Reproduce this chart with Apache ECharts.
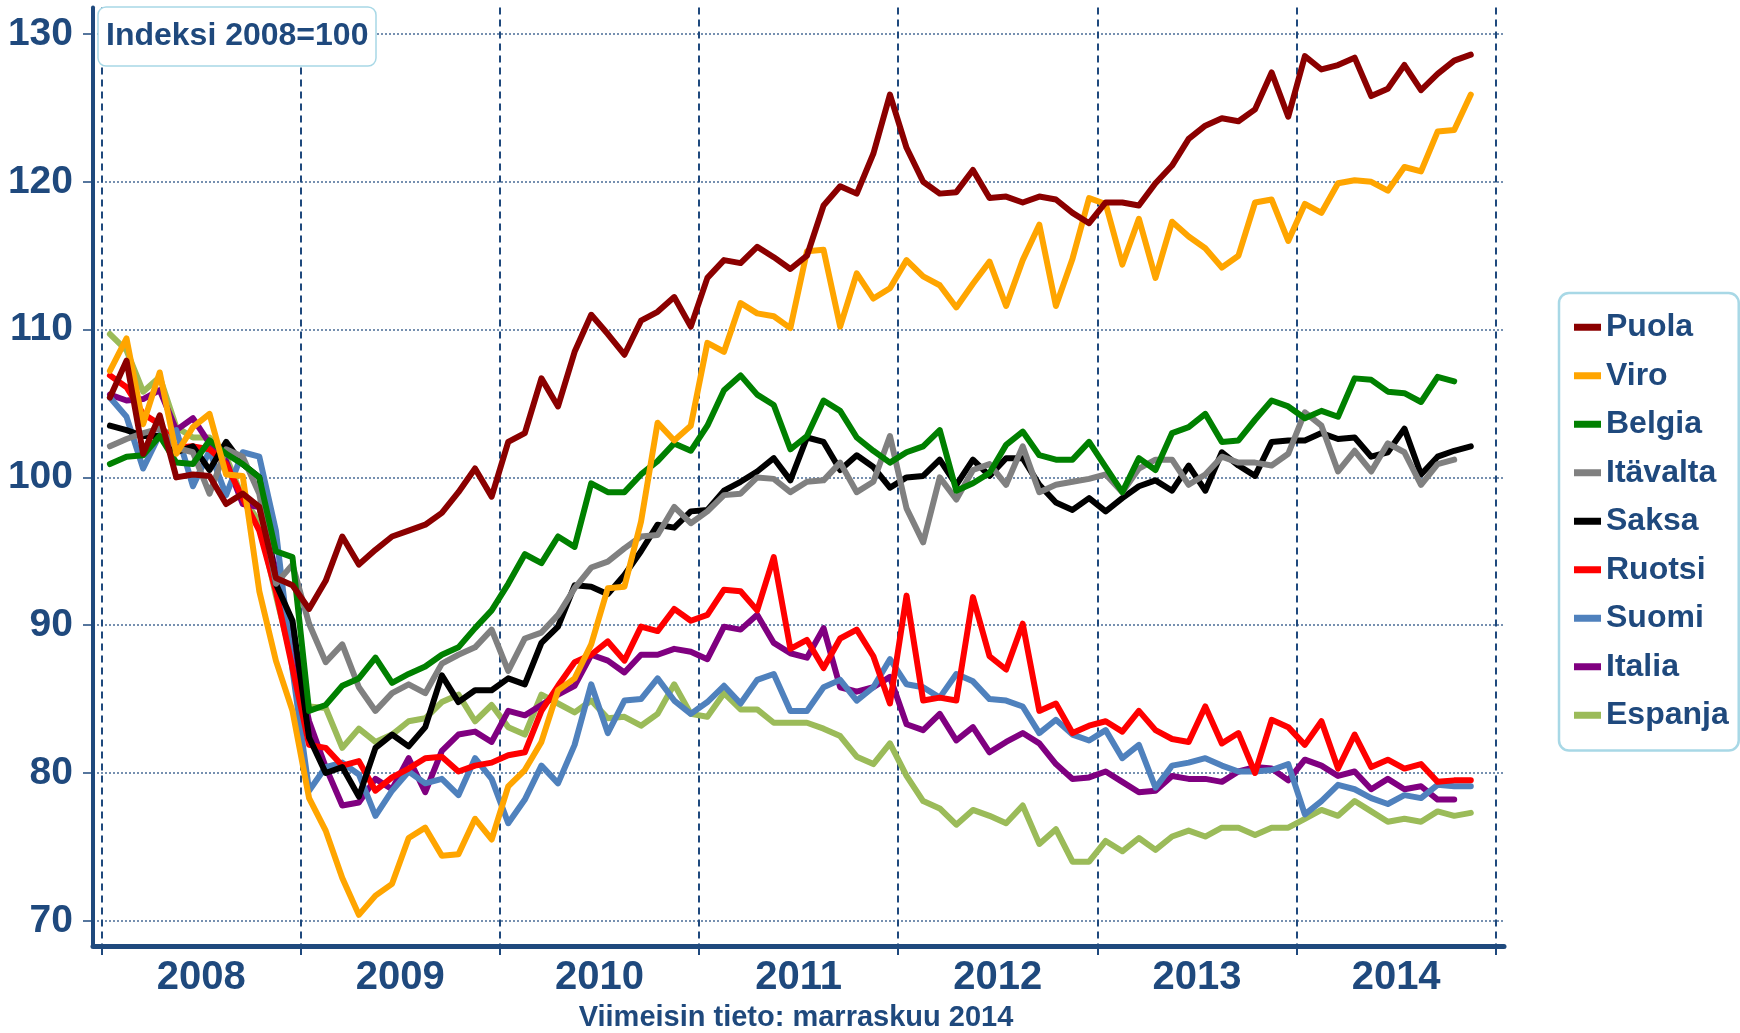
<!DOCTYPE html>
<html>
<head>
<meta charset="utf-8">
<title>Indeksi 2008=100</title>
<script src="https://cdn.jsdelivr.net/npm/echarts@6/dist/echarts.min.js"></script>
<style>
  html, body { margin: 0; padding: 0; background: #fff; }
  #chart { width: 1740px; height: 1033px; }
</style>
</head>
<body>
<div id="chart"></div>
<script>
// kuukausittaiset indeksit tammikuu 2008 - marraskuu 2014, 2008=100
const years = ['2008', '2009', '2010', '2011', '2012', '2013', '2014']
const yTicks = [70, 80, 90, 100, 110, 120, 130]

const puola = [
  105.4, 107.9, 101.6, 104.2, 100.0, 100.2, 100.1, 98.2, 98.9, 98.0, 93.2, 92.7,
  91.1, 93.0, 96.0, 94.1, 95.1, 96.0, 96.4, 96.8, 97.6, 99.0, 100.6, 98.7,
  102.4, 103.0, 106.7, 104.8, 108.5, 111.0, 109.7, 108.3, 110.6, 111.2, 112.2, 110.2,
  113.5, 114.7, 114.5, 115.6, 114.9, 114.1, 115.0, 118.4, 119.7, 119.2, 121.9, 125.9,
  122.3, 120.0, 119.2, 119.3, 120.8, 118.9, 119.0, 118.6, 119.0, 118.8, 117.9, 117.2,
  118.6, 118.6, 118.4, 119.9, 121.1, 122.9, 123.8, 124.3, 124.1, 124.9, 127.4, 124.4,
  128.5, 127.6, 127.9, 128.4, 125.8, 126.3, 127.9, 126.2, 127.3, 128.2, 128.6
]
const viro = [
  107.2, 109.4, 103.6, 107.1, 101.6, 103.4, 104.3, 100.2, 100.1, 92.3, 87.6, 84.2,
  78.3, 76.1, 72.9, 70.4, 71.7, 72.5, 75.6, 76.3, 74.4, 74.5, 76.9, 75.5,
  79.1, 80.2, 82.1, 85.6, 86.4, 88.7, 92.5, 92.6, 97.0, 103.7, 102.5, 103.5,
  109.1, 108.5, 111.8, 111.1, 110.9, 110.1, 115.3, 115.4, 110.2, 113.8, 112.1, 112.8,
  114.7, 113.6, 113.0, 111.5, 113.1, 114.6, 111.6, 114.7, 117.1, 111.6, 114.8, 118.9,
  118.5, 114.4, 117.5, 113.5, 117.3, 116.3, 115.5, 114.2, 115.0, 118.6, 118.8, 116.0,
  118.5, 117.9, 119.9, 120.1, 120.0, 119.4, 121.0, 120.7, 123.4, 123.5, 125.9
]
const belgia = [
  100.9, 101.4, 101.5, 102.8, 101.0, 100.9, 102.5, 101.6, 100.9, 100.0, 95.0, 94.6,
  84.2, 84.6, 85.9, 86.4, 87.8, 86.1, 86.7, 87.2, 88.0, 88.5, 89.8, 91.0,
  92.8, 94.8, 94.2, 96.0, 95.3, 99.6, 99.0, 99.0, 100.2, 101.1, 102.3, 101.8,
  103.5, 105.9, 106.9, 105.6, 104.9, 101.9, 102.8, 105.2, 104.5, 102.7, 101.8, 101.0,
  101.7, 102.1, 103.2, 99.1, 99.6, 100.3, 102.2, 103.1, 101.5, 101.2, 101.2, 102.4,
  100.7, 99.0, 101.3, 100.5, 103.0, 103.4, 104.3, 102.4, 102.5, 103.9, 105.2, 104.8,
  104.0, 104.5, 104.1, 106.7, 106.6, 105.8, 105.7, 105.1, 106.8, 106.5
]
const itavalta = [
  102.1, 102.6, 103.0, 103.3, 102.0, 101.7, 98.9, 101.9, 101.4, 98.9, 92.8, 94.1,
  90.1, 87.5, 88.7, 85.8, 84.2, 85.4, 86.0, 85.4, 87.4, 88.0, 88.5, 89.7,
  86.9, 89.1, 89.5, 90.7, 92.5, 93.9, 94.3, 95.2, 96.0, 96.1, 98.0, 96.9,
  97.7, 98.8, 98.9, 100.0, 99.9, 99.0, 99.7, 99.8, 101.0, 99.0, 99.7, 102.8,
  97.9, 95.6, 100.0, 98.5, 100.5, 100.9, 99.5, 102.1, 99.0, 99.5, 99.7, 99.9,
  100.2, 99.0, 100.6, 101.2, 101.2, 99.5, 100.2, 101.4, 101.0, 101.0, 100.8, 101.6,
  104.4, 103.5, 100.4, 101.8, 100.4, 102.3, 101.7, 99.5, 100.9, 101.2
]
const saksa = [
  103.5, 103.2, 102.8, 102.8, 101.7, 102.1, 100.5, 102.4, 100.9, 100.0, 92.8, 90.3,
  82.4, 80.0, 80.4, 78.4, 81.7, 82.6, 81.8, 83.1, 86.6, 84.8, 85.6, 85.6,
  86.4, 86.0, 88.8, 89.9, 92.7, 92.6, 92.1, 93.4, 95.0, 96.8, 96.6, 97.7,
  97.8, 99.1, 99.7, 100.4, 101.3, 99.8, 102.7, 102.4, 100.5, 101.5, 100.7, 99.3,
  100.0, 100.1, 101.2, 99.5, 101.2, 100.1, 101.3, 101.3, 99.5, 98.3, 97.8, 98.6,
  97.7, 98.6, 99.4, 99.8, 99.1, 100.8, 99.1, 101.7, 100.8, 100.1, 102.4, 102.5,
  102.5, 103.0, 102.6, 102.7, 101.4, 101.7, 103.3, 100.2, 101.4, 101.8, 102.1
]
const ruotsi = [
  106.9, 106.1, 104.3, 103.6, 102.0, 102.1, 101.9, 100.9, 98.6, 96.4, 92.3, 87.1,
  81.9, 81.7, 80.5, 80.8, 78.8, 79.7, 80.3, 81.0, 81.1, 80.1, 80.5, 80.7,
  81.2, 81.4, 84.2, 85.9, 87.5, 88.0, 88.9, 87.6, 89.9, 89.6, 91.1, 90.3,
  90.7, 92.4, 92.3, 91.0, 94.6, 88.4, 89.0, 87.1, 89.1, 89.7, 87.9, 84.7,
  92.0, 84.9, 85.1, 84.9, 91.9, 87.9, 87.0, 90.1, 84.2, 84.7, 82.7, 83.2,
  83.5, 82.8, 84.2, 82.9, 82.3, 82.1, 84.5, 82.0, 82.7, 80.0, 83.6, 83.1,
  81.9, 83.5, 80.3, 82.6, 80.4, 80.9, 80.3, 80.6, 79.4, 79.5, 79.5
]
const suomi = [
  105.4, 104.1, 100.6, 102.9, 103.2, 99.4, 101.8, 98.8, 101.7, 101.4, 96.4, 87.0,
  78.8, 80.4, 80.7, 79.9, 77.1, 78.8, 80.1, 79.3, 79.6, 78.5, 81.0, 79.6,
  76.6, 78.2, 80.5, 79.3, 81.9, 86.0, 82.7, 84.9, 85.0, 86.4, 84.9, 84.0,
  84.8, 85.9, 84.7, 86.3, 86.7, 84.2, 84.2, 85.8, 86.3, 84.9, 85.8, 87.7,
  86.0, 85.8, 85.1, 86.7, 86.2, 85.0, 84.9, 84.5, 82.7, 83.6, 82.6, 82.2,
  82.9, 81.0, 81.9, 79.0, 80.5, 80.7, 81.0, 80.5, 80.1, 80.1, 80.2, 80.6,
  77.2, 78.1, 79.2, 78.9, 78.3, 77.9, 78.5, 78.3, 79.2, 79.1, 79.1
]
const italia = [
  105.6, 105.2, 105.3, 105.9, 103.2, 104.0, 102.3, 101.1, 98.2, 98.0, 93.7, 88.5,
  83.5, 80.4, 77.8, 78.0, 79.6, 78.9, 81.0, 78.7, 81.5, 82.6, 82.8, 82.1,
  84.2, 83.9, 84.6, 85.3, 85.9, 88.0, 87.6, 86.8, 88.0, 88.0, 88.4, 88.2,
  87.7, 89.9, 89.7, 90.7, 88.8, 88.1, 87.8, 89.8, 85.8, 85.5, 85.8, 86.5,
  83.3, 82.9, 84.0, 82.2, 83.1, 81.4, 82.1, 82.7, 82.0, 80.6, 79.6, 79.7,
  80.1, 79.4, 78.7, 78.8, 79.8, 79.6, 79.6, 79.4, 80.1, 80.4, 80.3, 79.5,
  80.9, 80.5, 79.8, 80.1, 78.9, 79.6, 78.9, 79.1, 78.2, 78.2
]
const espanja = [
  109.7, 108.6, 105.8, 106.8, 103.4, 102.7, 102.7, 101.4, 98.6, 97.0, 92.0, 87.5,
  84.5, 84.4, 81.7, 83.0, 82.1, 82.6, 83.5, 83.7, 84.8, 85.3, 83.5, 84.6,
  83.1, 82.6, 85.3, 84.7, 84.1, 84.9, 83.7, 83.8, 83.2, 84.0, 86.0, 84.0,
  83.8, 85.4, 84.3, 84.3, 83.4, 83.4, 83.4, 83.0, 82.5, 81.1, 80.6, 82.0,
  79.8, 78.1, 77.6, 76.5, 77.5, 77.1, 76.6, 77.8, 75.2, 76.2, 74.0, 74.0,
  75.4, 74.7, 75.6, 74.8, 75.7, 76.1, 75.7, 76.3, 76.3, 75.8, 76.3, 76.3,
  76.9, 77.5, 77.1, 78.1, 77.4, 76.7, 76.9, 76.7, 77.4, 77.1, 77.3
]

const navy = '#1F497D'
const font = '"Liberation Sans", Arial, sans-serif'

// legendan järjestys, piirretään takaperin jotta Puola jää päällimmäiseksi
const countries = [
  { name: 'Puola', color: '#8B0000', data: puola },
  { name: 'Viro', color: '#FFA500', data: viro },
  { name: 'Belgia', color: '#008000', data: belgia },
  { name: 'Itävalta', color: '#808080', data: itavalta },
  { name: 'Saksa', color: '#000000', data: saksa },
  { name: 'Ruotsi', color: '#FF0000', data: ruotsi },
  { name: 'Suomi', color: '#4F81BD', data: suomi },
  { name: 'Italia', color: '#800080', data: italia },
  { name: 'Espanja', color: '#9BBB59', data: espanja }
]

// vuosien rajat ja keskikohdat kuukausi-indekseinä
const yearEdges = years.map((y, k) => k * 12 - 0.5).concat([years.length * 12 - 0.5])
const yearMids = years.map((y, k) => k * 12 + 5.5)

const chart = echarts.init(document.getElementById('chart'))

chart.setOption({
  animation: false,
  backgroundColor: '#fff',
  title: {
    text: 'Indeksi 2008=100',
    left: 98,
    top: 7,
    padding: [12, 8, 12, 8],
    backgroundColor: '#fff',
    borderColor: '#A8D8E6',
    borderWidth: 1.5,
    borderRadius: 8,
    textStyle: { fontFamily: font, fontSize: 32, fontWeight: 'bold', color: navy, lineHeight: 35 }
  },
  legend: {
    orient: 'vertical',
    left: 1559,
    top: 293,
    padding: [18, 10, 19, 15],
    itemWidth: 27,
    itemHeight: 7,
    itemGap: 16,
    icon: 'rect',
    backgroundColor: '#fff',
    borderColor: '#A8D8E6',
    borderWidth: 2.5,
    borderRadius: 10,
    data: countries.map(c => c.name),
    textStyle: { fontFamily: font, fontSize: 32, fontWeight: 'bold', color: navy, lineHeight: 32.5 }
  },
  graphic: [{
    type: 'text',
    x: 796,
    y: 1018,
    style: {
      text: 'Viimeisin tieto: marraskuu 2014',
      fill: navy,
      font: 'bold 29px ' + font,
      textAlign: 'center',
      textVerticalAlign: 'middle',
      align: 'center',
      verticalAlign: 'middle'
    }
  }],
  grid: {
    left: 93,
    right: 236,
    top: 7.4,
    bottom: 87.1,
    containLabel: false,
    outerBoundsMode: 'none'
  },
  xAxis: {
    type: 'value',
    min: -1.02,
    max: 84,
    axisLine: { show: true, onZero: false, lineStyle: { color: navy, width: 5 } },
    axisTick: { show: true, customValues: yearEdges, length: 9, lineStyle: { color: navy, width: 2 } },
    axisLabel: {
      customValues: yearMids,
      margin: 12,
      fontFamily: font,
      fontSize: 40,
      fontWeight: 'bold',
      color: navy,
      formatter: v => years[Math.round((v - 5.5) / 12)]
    },
    splitLine: { show: true, lineStyle: { color: navy, width: 2, type: [7, 5] } }
  },
  yAxis: {
    type: 'value',
    min: 68.3,
    max: 131.8,
    axisLine: { show: true, onZero: false, lineStyle: { color: navy, width: 4 } },
    axisTick: { show: true, customValues: yTicks, length: 10, lineStyle: { color: navy, width: 1.5 } },
    axisLabel: {
      customValues: yTicks,
      margin: 20,
      fontFamily: font,
      fontSize: 39,
      fontWeight: 'bold',
      color: navy
    },
    splitLine: { show: true, lineStyle: { color: '#4A6C96', width: 1.5, type: [2, 2] } }
  },
  series: countries.slice().reverse().map(c => ({
    name: c.name,
    type: 'line',
    color: c.color,
    showSymbol: false,
    symbol: 'none',
    lineStyle: { width: 6, color: c.color, join: 'round', cap: 'round' },
    data: c.data.map((v, i) => [i, v])
  }))
})
</script>
</body>
</html>
